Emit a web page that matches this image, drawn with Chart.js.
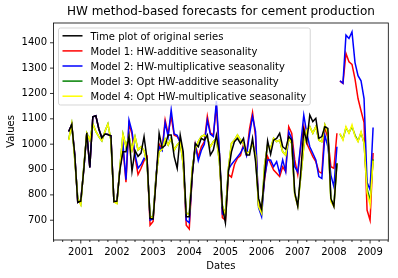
<!DOCTYPE html>
<html><head><meta charset="utf-8">
<script src="https://cdn.jsdelivr.net/npm/chart.js@4.4.1/dist/chart.umd.min.js"></script>
<style>html,body{margin:0;padding:0;background:#fff;}canvas{display:block;}</style>
</head><body>
<canvas id="c" width="398" height="278"></canvas>
<script>
// ---- categories (months) ----
const fittedDates = [
  '2000-09','2000-10','2000-11','2000-12',
  '2001-01','2001-02','2001-03','2001-04','2001-05','2001-06','2001-07','2001-08','2001-09','2001-10','2001-11','2001-12',
  '2002-01','2002-02','2002-03','2002-04','2002-05','2002-06','2002-07','2002-08','2002-09','2002-10','2002-11','2002-12',
  '2003-01','2003-02','2003-03','2003-04','2003-05','2003-06','2003-07','2003-08','2003-09','2003-10','2003-11','2003-12',
  '2004-01','2004-02','2004-03','2004-04','2004-05','2004-06','2004-07','2004-08','2004-09','2004-10','2004-11','2004-12',
  '2005-01','2005-02','2005-03','2005-04','2005-05','2005-06','2005-07','2005-08','2005-09','2005-10','2005-11','2005-12',
  '2006-01','2006-02','2006-03','2006-04','2006-05','2006-06','2006-07','2006-08','2006-09','2006-10','2006-11','2006-12',
  '2007-01','2007-02','2007-03','2007-04','2007-05','2007-06','2007-07','2007-08','2007-09','2007-10','2007-11','2007-12',
  '2008-01','2008-02'
];
const forecastDates = ['2008-03','2008-04','2008-05','2008-06','2008-07','2008-08','2008-09','2008-10','2008-11','2008-12','2009-01','2009-02'];

// ---- series values ----
const original = [
  1050,1078,960,770,
  775,900,1045,908,1108,1112,1060,1025,1040,1038,1033,773,
  775,900,970,970,1032,893,975,952,965,1030,940,707,
  705,860,1043,985,995,1036,1036,951,905,1036,970,714,
  714,880,1003,990,1023,1016,1036,957,977,1036,964,750,
  690,892,970,1010,1023,1003,1023,957,957,1023,931,786,
  745,880,1013,960,1016,1023,1043,990,980,1030,1016,810,
  755,890,1056,1010,1115,1089,1102,1023,1030,1069,1062,786,
  754,924
];
const hwAdditiveFit = [
  1050,1078,960,770,
  775,900,1045,908,1108,1112,1060,1025,1040,1038,1033,773,
  775,905,990,850,1080,1040,950,880,905,935,950,680,
  695,870,1000,980,1095,1040,1110,1035,1030,1010,940,680,
  665,880,1000,950,990,1010,1110,1045,1035,1150,960,710,
  700,880,870,920,945,955,1000,960,1060,1125,1030,760,
  745,860,951,924,898,885,872,911,892,1069,1043,938,
  880,990,1070,1003,977,951,931,892,885,1069,1023,911,
  905,1043
];
const hwMultiplicativeFit = [
  1050,1078,960,770,
  775,900,1045,908,1108,1112,1060,1025,1040,1038,1033,773,
  775,905,1000,860,1095,1050,960,905,920,945,940,700,
  705,880,990,975,1085,1030,1135,1040,1035,1005,940,700,
  690,880,995,935,975,1000,1095,1040,1030,1170,970,725,
  720,900,920,935,950,965,990,955,1040,1110,1050,750,
  715,870,938,938,911,931,885,938,892,1049,1023,911,
  890,1000,1115,1043,990,964,938,872,865,1036,990,878,
  832,990
];
const optAdditiveFit = [
  1018,1080,942,787,
  762,911,1043,1016,1080,1050,1030,1013,1050,1080,1016,775,
  767,911,1040,990,1030,977,1030,977,990,975,925,716,
  712,875,970,980,1020,997,1023,977,997,1010,918,729,
  723,905,984,1010,1030,1036,1023,990,1010,1023,931,757,
  723,905,1003,1016,1036,1016,1003,964,970,1003,957,757,
  730,918,997,984,1023,1010,1016,970,957,1023,1003,803,
  759,872,990,1056,1069,1043,1069,1016,1010,1076,1043,780,
  762,926
];
const optMultiplicativeFit = [
  1016,1080,940,785,
  760,911,1043,1016,1080,1050,1030,1013,1050,1080,1016,773,
  765,911,1040,990,1030,977,1030,977,990,975,925,714,
  710,875,970,980,1020,997,1023,977,997,1010,918,727,
  721,905,984,1010,1030,1036,1023,990,1010,1023,931,755,
  721,905,1003,1016,1036,1016,1003,964,970,1003,957,754,
  727,918,997,984,1023,1010,1016,970,957,1023,1003,800,
  756,872,990,1056,1069,1043,1069,1016,1010,1076,1043,773,
  754,924
];
const hwAdditiveForecast       = [1249,1240,1358,1325,1315,1258,1180,1132,1085,740,700,965];
const hwMultiplicativeForecast = [1250,1240,1430,1417,1443,1322,1270,1250,1180,850,820,1066];
const optAdditiveForecast      = [1040,1020,1065,1045,1070,1035,1012,1045,1005,825,775,940];
const optMultiplicativeForecast= [1043,1016,1069,1043,1076,1030,1010,1049,1003,810,760,935];

// ---- tick labels ----
const yTickValues = [700,800,900,1000,1100,1200,1300,1400];
const xTickYears = [2001,2002,2003,2004,2005,2006,2007,2008,2009];

const seriesLabels = [
  'Time plot of original series',
  'Model 1: HW-additive seasonality',
  'Model 2: HW-multiplicative seasonality',
  'Model 3: Opt HW-additive seasonality',
  'Model 4: Opt HW-multiplicative seasonality'
];
const seriesColors = ['#000000','#ff0000','#0000ff','#008000','#ffff00'];

const FONT = "'DejaVu Sans', 'Liberation Sans', sans-serif";
Chart.defaults.font.family = FONT;
Chart.defaults.color = '#000';

function toX(d){ const p = d.split('-'); return parseInt(p[0],10) + (parseInt(p[1],10)-1)/12; }
function pts(dates, vals){ return dates.map((d,i)=>({x:toX(d), y:vals[i]})); }
function ds(label, color, dates, vals){
  return {label, data: pts(dates, vals), borderColor: color, backgroundColor: color,
          borderWidth: 1.5, pointRadius: 0, tension: 0, fill: false};
}

const datasets = [
  ds(seriesLabels[0], seriesColors[0], fittedDates, original),
  ds(seriesLabels[4], seriesColors[4], fittedDates, optMultiplicativeFit),
  ds(seriesLabels[4], seriesColors[4], forecastDates, optMultiplicativeForecast),
  ds(seriesLabels[3], seriesColors[3], fittedDates, optAdditiveFit),
  ds(seriesLabels[3], seriesColors[3], forecastDates, optAdditiveForecast),
  ds(seriesLabels[2], seriesColors[2], fittedDates, hwMultiplicativeFit),
  ds(seriesLabels[2], seriesColors[2], forecastDates, hwMultiplicativeForecast),
  ds(seriesLabels[1], seriesColors[1], fittedDates, hwAdditiveFit),
  ds(seriesLabels[1], seriesColors[1], forecastDates, hwAdditiveForecast)
];

const decor = {
  id: 'mplDecor',
  afterDraw(chart){
    const {ctx, chartArea: a, scales} = chart;
    const x = scales.x, y = scales.y;
    ctx.save();
    // frame
    ctx.strokeStyle = '#000'; ctx.lineWidth = 0.8;
    ctx.strokeRect(a.left, a.top, a.right - a.left, a.bottom - a.top);
    // ticks
    ctx.beginPath();
    x.ticks.forEach(t => {
      const px = x.getPixelForValue(t.value);
      const major = Math.abs(t.value - Math.round(t.value)) < 1e-6;
      const len = major ? 3.5 : 2;
      ctx.moveTo(px, a.bottom); ctx.lineTo(px, a.bottom + len);
    });
    y.ticks.forEach(t => {
      const py = y.getPixelForValue(t.value);
      ctx.moveTo(a.left, py); ctx.lineTo(a.left - 3.5, py);
    });
    ctx.stroke();
    // title
    ctx.fillStyle = '#000';
    ctx.font = '12px ' + FONT;
    ctx.textAlign = 'center'; ctx.textBaseline = 'alphabetic';
    const cx = (a.left + a.right) / 2;
    ctx.fillText('HW method-based forecasts for cement production', cx, 15.3);
    // axis titles
    ctx.font = '10px ' + FONT;
    ctx.fillText('Dates', cx, 269);
    ctx.save();
    ctx.translate(14, (a.top + a.bottom) / 2);
    ctx.rotate(-Math.PI / 2);
    ctx.fillText('Values', 0, 0);
    ctx.restore();
    // legend
    ctx.font = '10px ' + FONT;
    let maxW = 0;
    seriesLabels.forEach(l => { maxW = Math.max(maxW, ctx.measureText(l).width); });
    const bx = a.left + 5, by = a.top + 5;
    const bw = 4 + 20 + 8 + maxW + 4, bh = 77;
    const r = 2;
    ctx.beginPath();
    ctx.moveTo(bx + r, by);
    ctx.lineTo(bx + bw - r, by); ctx.arcTo(bx + bw, by, bx + bw, by + r, r);
    ctx.lineTo(bx + bw, by + bh - r); ctx.arcTo(bx + bw, by + bh, bx + bw - r, by + bh, r);
    ctx.lineTo(bx + r, by + bh); ctx.arcTo(bx, by + bh, bx, by + bh - r, r);
    ctx.lineTo(bx, by + r); ctx.arcTo(bx, by, bx + r, by, r);
    ctx.closePath();
    ctx.fillStyle = 'rgba(255,255,255,0.8)'; ctx.fill();
    ctx.strokeStyle = 'rgba(204,204,204,0.8)'; ctx.lineWidth = 1; ctx.stroke();
    ctx.textAlign = 'left'; ctx.textBaseline = 'alphabetic';
    seriesLabels.forEach((l, i) => {
      const ry = by + 7.8 + 15.1 * i;
      ctx.strokeStyle = seriesColors[i]; ctx.lineWidth = 1.5;
      ctx.beginPath(); ctx.moveTo(bx + 4, ry); ctx.lineTo(bx + 24, ry); ctx.stroke();
      ctx.fillStyle = '#000';
      ctx.fillText(l, bx + 32, ry + 3.8);
    });
    ctx.restore();
  }
};

new Chart(document.getElementById('c'), {
  type: 'line',
  data: { datasets },
  plugins: [decor],
  options: {
    responsive: false, animation: false, devicePixelRatio: 1,
    layout: { padding: { left: 0, right: 9.7, top: 23, bottom: 0 } },
    plugins: { legend: { display: false }, tooltip: { enabled: false }, title: { display: false } },
    scales: {
      x: {
        type: 'linear', min: 2000.246, max: 2009.504,
        grid: { display: false, drawTicks: false }, border: { display: false },
        ticks: { autoSkip: false, maxRotation: 0, minRotation: 0, padding: 6.5, font: { size: 10 },
          callback: (v) => xTickYears.includes(Math.round(v)) && Math.abs(v - Math.round(v)) < 1e-6 ? String(Math.round(v)) : '' },
        afterBuildTicks: (s) => {
          const t = [];
          for (let yr = 2000; yr <= 2009; yr++) for (const q of [0, 0.25, 0.5, 0.75]) {
            const v = yr + q; if (v >= 2000.246 && v <= 2009.504) t.push({ value: v });
          }
          s.ticks = t;
        },
        afterFit: (s) => { s.height = 38; }
      },
      y: {
        type: 'linear', min: 622, max: 1478,
        grid: { display: false, drawTicks: false }, border: { display: false },
        ticks: { padding: 6.5, font: { size: 10 }, callback: (v) => String(v) },
        afterBuildTicks: (s) => { s.ticks = yTickValues.map(v => ({ value: v })); },
        afterFit: (s) => { s.width = 53.5; }
      }
    }
  }
});
</script>
</body></html>
